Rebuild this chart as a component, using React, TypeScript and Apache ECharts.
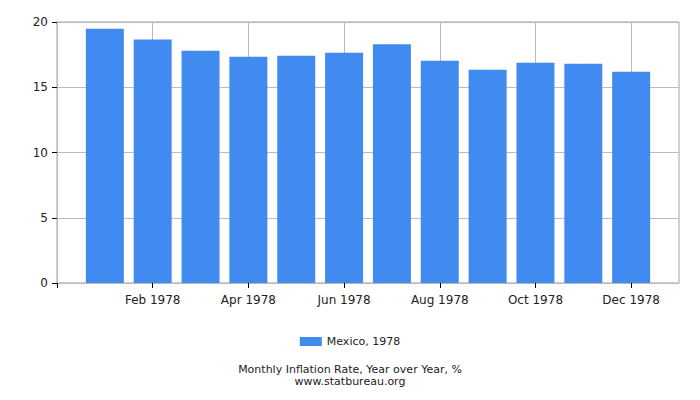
import { useEffect, useRef } from "react";
import * as echarts from "echarts";

const months = ["Jan 1978", "Feb 1978", "Mar 1978", "Apr 1978", "May 1978", "Jun 1978", "Jul 1978", "Aug 1978", "Sep 1978", "Oct 1978", "Nov 1978", "Dec 1978"];
const inflation = [19.49, 18.65, 17.8, 17.34, 17.42, 17.65, 18.29, 17.04, 16.35, 16.88, 16.81, 16.19];
const labelledTicks = [2, 4, 6, 8, 10, 12];

const App = () => {
  const chartRef = useRef<HTMLDivElement>(null);

  useEffect(() => {
    const chart = echarts.init(chartRef.current!, null, { renderer: "svg" });
    const font = "DejaVu Sans";
    const titleStyle = { fontSize: 11, fontWeight: "normal", color: "#222", fontFamily: font };
    chart.setOption({
      animation: false,
      textStyle: { fontFamily: font },
      grid: { left: 57, right: 21, top: 22, bottom: 117, show: true, borderColor: "#a0a0a0", borderWidth: 1 },
      legend: {
        data: ["Mexico, 1978"],
        top: 331,
        left: "center",
        itemWidth: 22,
        itemHeight: 9,
        itemGap: 6,
        textStyle: { fontSize: 11, color: "#222", fontFamily: font },
        icon: "rect",
      },
      title: [
        { text: "Monthly Inflation Rate, Year over Year, %", left: "center", top: 364, padding: 0, textStyle: titleStyle },
        { text: "www.statbureau.org", left: "center", top: 376, padding: 0, textStyle: titleStyle },
      ],
      xAxis: {
        type: "value",
        min: 0,
        max: months.length + 1,
        interval: 2,
        axisLine: { show: true, lineStyle: { color: "#bbb" } },
        axisTick: { show: true, length: 5, lineStyle: { color: "#000" }, customValues: [0, ...labelledTicks] },
        axisLabel: {
          customValues: labelledTicks,
          fontSize: 12,
          color: "#222",
          margin: 11,
          formatter: (v: number) => months[v - 1] ?? "",
        },
        splitLine: { show: true, lineStyle: { color: "#bbb" } },
      },
      yAxis: {
        type: "value",
        min: 0,
        max: 20,
        interval: 5,
        axisLine: { show: true, lineStyle: { color: "#bbb" } },
        axisTick: { show: true, length: 5, lineStyle: { color: "#000" } },
        axisLabel: { fontSize: 12, color: "#222", margin: 9 },
        splitLine: { show: true, lineStyle: { color: "#bbb" } },
      },
      series: [
        {
          name: "Mexico, 1978",
          type: "bar",
          barWidth: 38,
          itemStyle: { color: "#418bf0" },
          data: inflation.map((v, i) => [i + 1, v]),
        },
      ],
    });
    return () => {
      chart.dispose();
    };
  }, []);

  return <div ref={chartRef} style={{ width: 700, height: 400, margin: -8 }} />;
};

export default App;
